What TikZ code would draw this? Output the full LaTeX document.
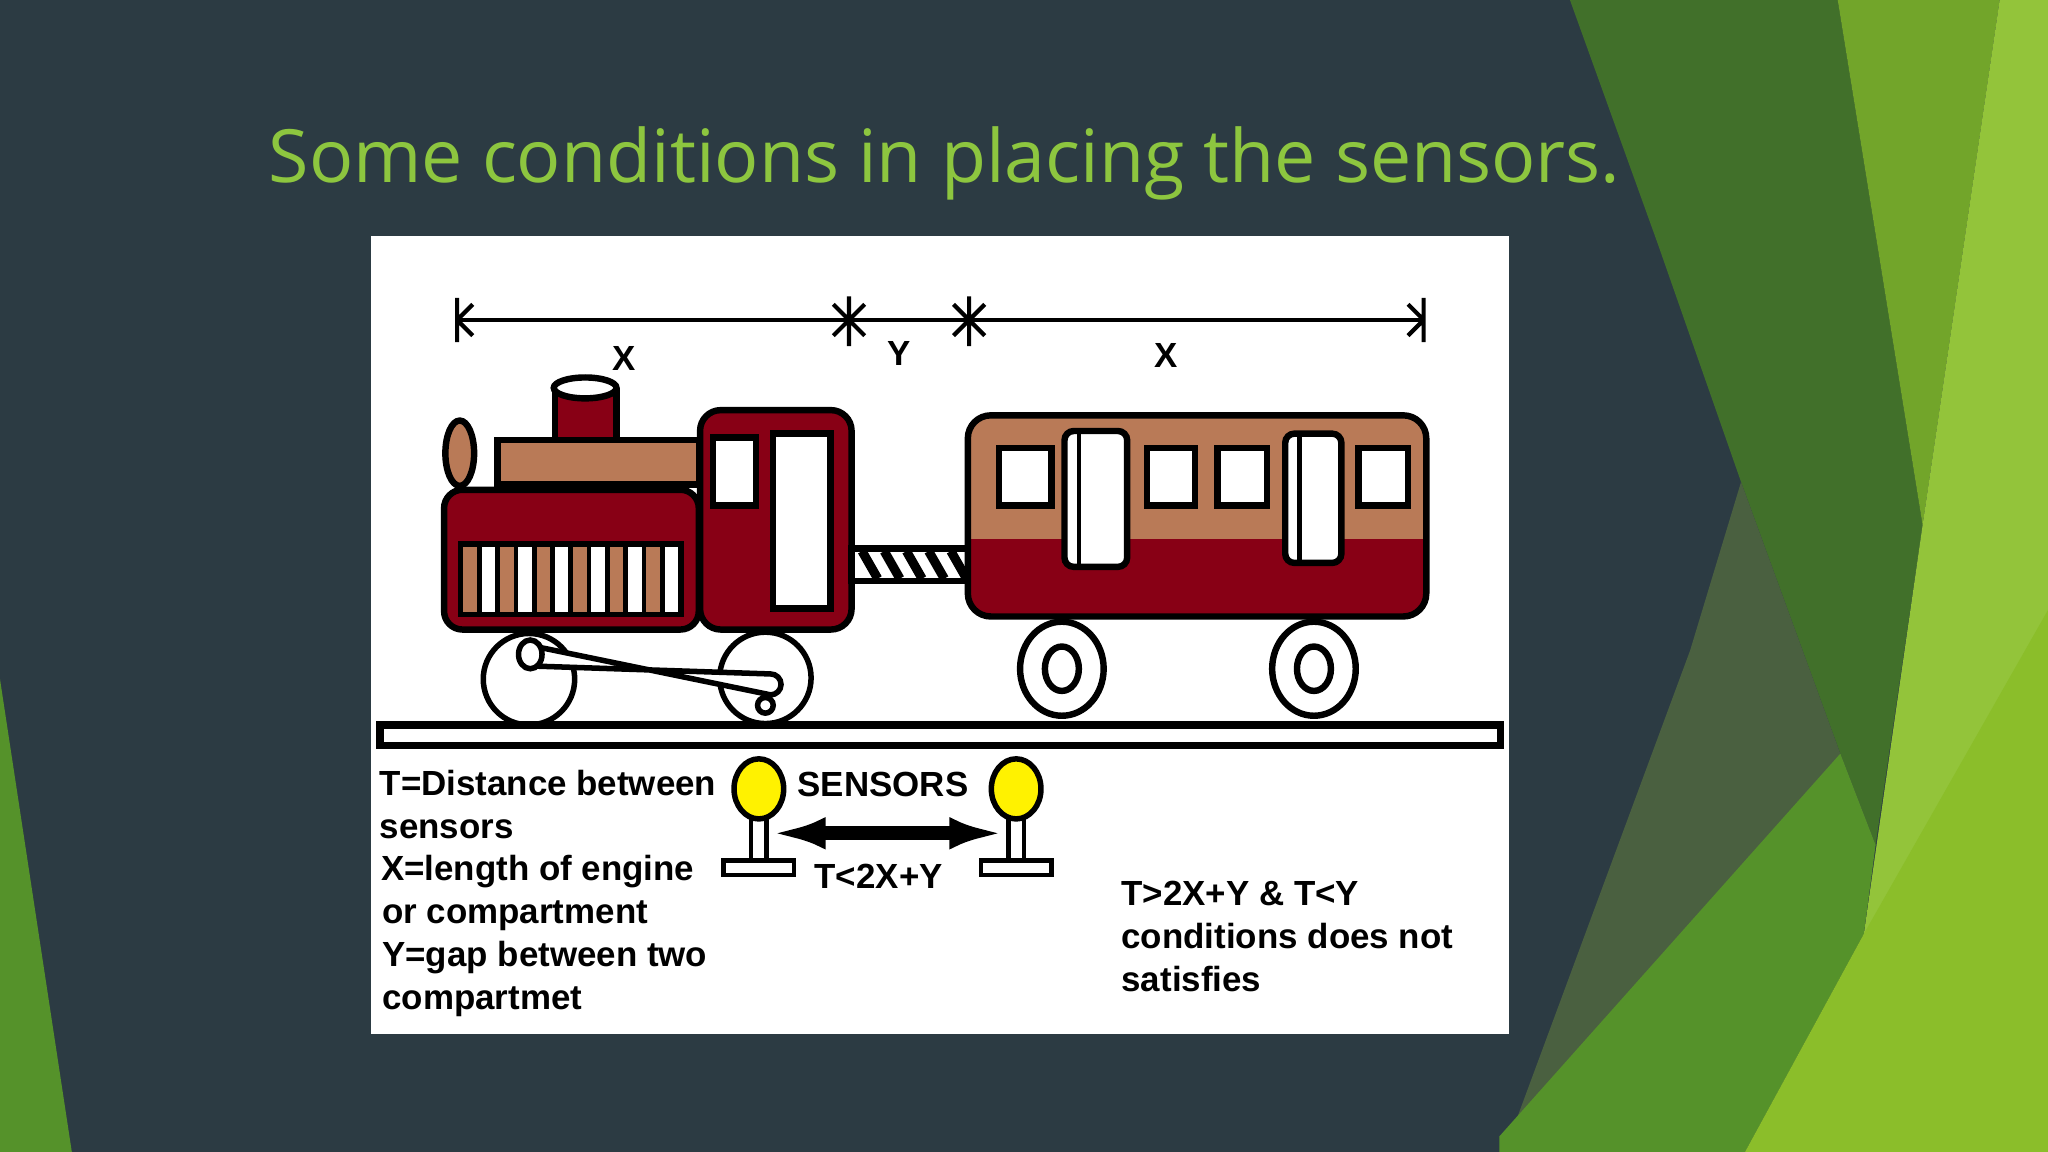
\documentclass[tikz,border=0pt]{standalone}
\usepackage{fontspec}
\setmainfont{Liberation Sans}
\newfontfamily\titlefont{Open Sans}
\usetikzlibrary{arrows.meta,patterns}
\definecolor{bg}{HTML}{2C3B43}
\definecolor{ttl}{HTML}{8DC63F}
\definecolor{maroon}{RGB}{136,0,21}
\definecolor{tan}{RGB}{185,122,87}
\definecolor{yel}{RGB}{255,242,0}
\definecolor{dg}{HTML}{41702A}
\definecolor{mg}{HTML}{72A52A}
\definecolor{lg}{HTML}{93C43A}
\definecolor{bg2}{HTML}{8BBE2A}
\definecolor{band}{HTML}{55922A}
\definecolor{olive}{HTML}{4A6040}
\begin{document}
\begin{tikzpicture}[x=0.01cm,y=-0.01cm,
  ol/.style={draw=black,line width=1.4pt},
  txt/.style={anchor=base west,inner sep=0pt,font=\fontsize{7.6}{8}\selectfont\bfseries},
  dim/.style={line width=0.9pt}]
\useasboundingbox (0,0) rectangle (1568,882);
\fill[bg] (0,0) rectangle (1568,882);
% decorative polygons
\fill[dg] (1202,0) -- (1407,0) -- (1472,402) -- (1436,647) -- (1409,577) -- (1333,369) -- (1269,186) -- cycle;
\fill[mg] (1407,0) -- (1531,0) -- (1472,402) -- cycle;
\fill[lg] (1531,0) -- (1568,0) -- (1568,882) -- (1403,882) -- (1427,715) -- (1472,402) -- cycle;
\fill[olive] (1333,369) -- (1409,577) -- (1436,647) -- (1160,860) -- (1294,498) -- cycle;
\fill[band] (1148,882) -- (1148,870) -- (1409,577) -- (1436,647) -- (1427,715) -- (1336,882) -- cycle;
\fill[bg2] (1568,467) -- (1568,882) -- (1336,882) -- (1427,715) -- cycle;
\fill[band] (0,520) -- (55,882) -- (0,882) -- cycle;
% title
\node[anchor=base west,inner sep=0pt,text=ttl,font=\titlefont\fontsize{16}{19}\selectfont] (title) at (205,140) {Some conditions in placing the sensors.};
% white panel
\fill[white] (284,181) rectangle (1155,792);
% dimension line
\draw[dim] (350,245) -- (1090,245);
\draw[dim] (350,228) -- (350,262) (350,245) -- (362,233) (350,245) -- (362,257);
\draw[dim] (1090,228) -- (1090,262) (1090,245) -- (1078,233) (1090,245) -- (1078,257);
\foreach \xx in {650,742}{
  \draw[dim] (\xx,227) -- (\xx,265) (\xx-12,233) -- (\xx+12,257) (\xx-12,257) -- (\xx+12,233);}
\node[txt] (x1) at (468,284) {X};
\node[txt] (y1) at (679,280) {Y};
\node[txt] (x2) at (883,281) {X};
% engine
\draw[ol,fill=tan] (352,347) ellipse (11 and 25);
\draw[ol,fill=maroon] (425,297) -- (425,337) -- (472,337) -- (472,297);
\draw[ol,fill=white] (448,297) ellipse (24 and 8);
\draw[ol,fill=tan] (381,337) rectangle (535,371);
\draw[ol,fill=maroon,rounded corners=4pt] (340,375) rectangle (535,482);
\draw[ol,fill=white] (353,417) rectangle (521,470);
\foreach \i in {0,...,11}{
  \pgfmathsetmacro\xa{353+\i*14}
  \ifodd\i \def\cc{white}\else\def\cc{tan}\fi
  \draw[black,line width=1pt,fill=\cc] (\xa,417) rectangle ++(14,53);}
\draw[ol,fill=maroon,rounded corners=4.5pt] (536,314) rectangle (652,482);
\draw[ol,fill=white] (546,335) rectangle (579,387);
\draw[ol,fill=white] (592,332) rectangle (636,466);
% coupler
\draw[ol,fill=white] (652,420) rectangle (742,445);
\foreach \i in {0,...,4}{\draw[line width=2pt] (660+\i*17,422) -- (672+\i*17,443);}
% engine wheels
\draw[line width=1.2pt,fill=white] (405,520) circle (35);
\draw[line width=1.2pt,fill=white] (586,519) circle (35);
\draw[line width=1.2pt,fill=white] (410,495) -- (590,532) arc (90:-90:8) -- (410,510) -- cycle;
\draw[line width=1.2pt,fill=white] (406,501) ellipse (9 and 11);
\draw[line width=1.2pt,fill=white] (586,540) circle (6);
% coach
\begin{scope}
\clip[rounded corners=5pt] (741,318) rectangle (1092,472);
\fill[tan] (741,318) rectangle (1092,413);
\fill[maroon] (741,413) rectangle (1092,472);
\end{scope}
\draw[ol,rounded corners=5pt] (741,318) rectangle (1092,472);
\foreach \a/\b in {765/805,878/915,932/970,1040/1078}{
  \draw[ol,fill=white] (\a,343) rectangle (\b,387);}
\draw[ol,fill=white,rounded corners=2pt] (815,330) rectangle (863,434);
\draw[line width=1pt] (826,332) -- (826,432);
\draw[ol,fill=white,rounded corners=2pt] (984,332) rectangle (1027,431);
\draw[line width=1pt] (995,334) -- (995,429);
\foreach \cx in {813,1006}{
  \draw[line width=1.4pt,fill=white] (\cx,512) ellipse (32 and 36);
  \draw[line width=1.4pt,fill=white] (\cx,512) ellipse (13 and 17);}
% rail
\draw[line width=1.6pt,fill=white] (291,555) rectangle (1149,571);
% sensors
\foreach \sx/\nm in {581/sa,778/sb}{
  \draw[line width=1pt,fill=white] (\sx-6,626) rectangle (\sx+6,659);
  \draw[line width=1pt,fill=white] (\sx-27,659) rectangle (\sx+27,670);
  \draw[line width=1.2pt,fill=yel] (\sx,604) ellipse (19 and 23);}
\coordinate (sa) at (590,638);
\coordinate (sb) at (769,638);
\draw[line width=3pt,{Latex[length=12pt,width=7pt]}-{Latex[length=12pt,width=7pt]}] (sa) -- (sb);
% texts
\node[txt] (sens) at (610,610) {SENSORS};
\node[txt] (tl) at (623,680) {T<2X+Y};
\node[txt] (l1) at (290,609) {T=Distance between};
\node[txt] (l2) at (290,642) {sensors};
\node[txt] (l3) at (291,674) {X=length of engine};
\node[txt] (l4) at (292,707) {or compartment};
\node[txt] (l5) at (292,740) {Y=gap between two};
\node[txt] (l6) at (292,773) {compartmet};
\node[txt] (r1) at (858,693) {T>2X+Y \& T<Y};
\node[txt] (r2) at (858,726) {conditions does not};
\node[txt] (r3) at (858,759) {satisfies};
\end{tikzpicture}
\end{document}
